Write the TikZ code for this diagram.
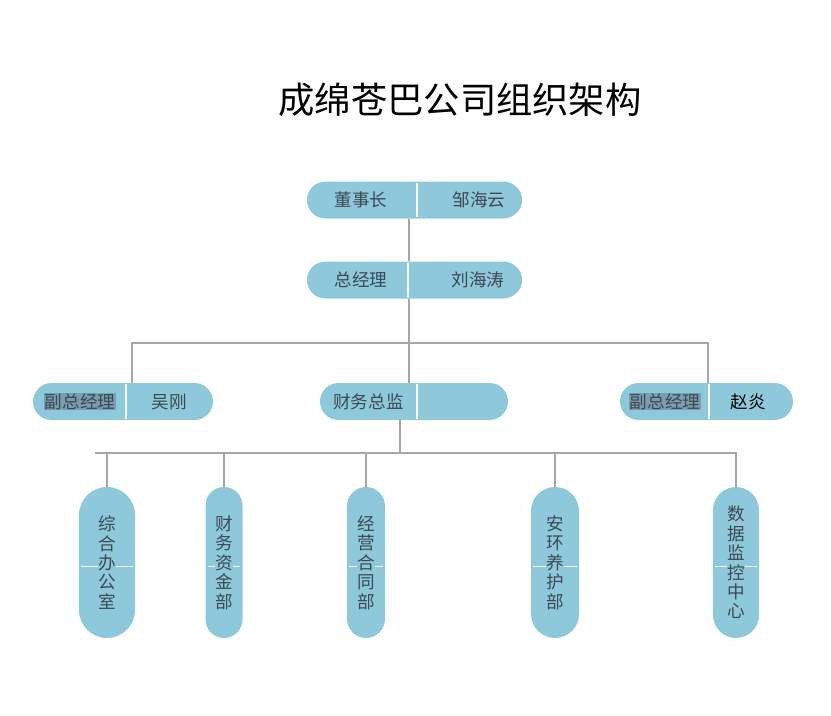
\documentclass[tikz,border=0pt]{standalone}
\usepackage{fontspec}
\setmainfont{Noto Sans CJK SC}
\usetikzlibrary{positioning, calc}
\definecolor{pillblue}{RGB}{142,201,219}
\definecolor{inkgray}{RGB}{60,72,82}
\definecolor{hlgray}{RGB}{122,158,174}

\begin{document}
\begin{tikzpicture}[
  x=0.03cm, y=-0.03cm,
  pill/.style={fill=pillblue, minimum height=1.11cm, rounded corners=0.555cm, inner sep=0pt},
  vpill/.style={fill=pillblue, minimum height=4.53cm, inner sep=0pt},
  lbl/.style={font=\fontsize{15}{17}\selectfont, text=inkgray, inner sep=0.5pt},
  hl/.style={lbl, fill=hlgray},
  coltext/.style={font=\fontsize{15}{16.6}\selectfont, text=inkgray, align=center, fill=pillblue, inner sep=0pt},
  link/.style={draw=gray!70, line width=0.9pt},
  divider/.style={draw=white, line width=1.2pt},
  ttl/.style={font=\fontsize{31}{35}\selectfont, text=black},
]
\useasboundingbox (0,0) rectangle (831,715);

% --- title ---
\node[ttl] (title) at (460,100) {成绵苍巴公司组织架构};

% --- top ---
\node[pill, minimum width=6.45cm] (chair) at (414.5,200) {};
\draw[divider] (417,183) -- (417,217);
\node[lbl] (chairT) at (361,200) {董事长};
\node[lbl] (chairN) at (479,200) {邹海云};

\node[pill, minimum width=6.45cm] (gm) at (414.5,280) {};
\draw[divider] (408,263) -- (408,297);
\node[lbl] (gmT) at (361,280) {总经理};
\node[lbl] (gmN) at (478,280) {刘海涛};

% --- middle row ---
\node[pill, minimum width=5.4cm] (vpl) at (123,401.5) {};
\draw[divider] (126,384) -- (126,419);
\node[hl] (vplT) at (80,401.5) {副总经理};
\node[lbl] (vplN) at (169.5,401.5) {吴刚};

\node[pill, minimum width=5.64cm] (cfo) at (414,401.5) {};
\draw[divider] (417,384) -- (417,419);
\node[lbl] (cfoT) at (368.5,401.5) {财务总监};

\node[pill, minimum width=5.19cm] (vpr) at (706.5,401.5) {};
\draw[divider] (709,384) -- (709,419);
\node[hl] (vprT) at (665,401.5) {副总经理};
\node[lbl, text=black] (vprN) at (748.5,401.5) {赵炎};

% --- departments ---
\node[vpill, minimum width=1.68cm, rounded corners=0.84cm] (d1) at (107,562.5) {};
\node[vpill, minimum width=1.11cm, rounded corners=0.555cm] (d2) at (224,562.5) {};
\node[vpill, minimum width=1.14cm, rounded corners=0.57cm] (d3) at (366,562.5) {};
\node[vpill, minimum width=1.44cm, rounded corners=0.72cm] (d4) at (555,562.5) {};
\node[vpill, minimum width=1.38cm, rounded corners=0.69cm] (d5) at (736,562.5) {};

\foreach \d/\w in {d1/26, d2/16, d3/17, d4/22, d5/21}
  \draw[divider] ($(\d.center)+(-\w,4)$) -- ($(\d.center)+(\w,4)$);

\node[coltext] (d1T) at (d1) {综\\合\\办\\公\\室};
\node[coltext] (d2T) at (d2) {财\\务\\资\\金\\部};
\node[coltext] (d3T) at (d3) {经\\营\\合\\同\\部};
\node[coltext] (d4T) at (d4) {安\\环\\养\\护\\部};
\node[coltext] (d5T) at (d5) {数\\据\\监\\控\\中\\心};

% --- connectors ---
\coordinate (spine) at (409,343);
\coordinate (busLw) at (132,343);
\coordinate (busLe) at (708,343);
\draw[link] (chair.south -| spine) -- (gm.north -| spine);
\draw[link] (gm.south -| spine) -- (spine) -- (spine |- cfo.north);
\draw[link] (busLw |- vpl.north) -- (busLw) -- (busLe) -- (busLe |- vpr.north);

\coordinate (stem) at (400,453);
\coordinate (busW) at (95,453);
\draw[link] (cfo.south -| stem) -- (stem);
\draw[link] (busW) -- (busW -| d5.north) -- (d5.north);
\foreach \d in {d1, d2, d3, d4}
  \draw[link] (busW -| \d.north) -- (\d.north);

\end{tikzpicture}
\end{document}
